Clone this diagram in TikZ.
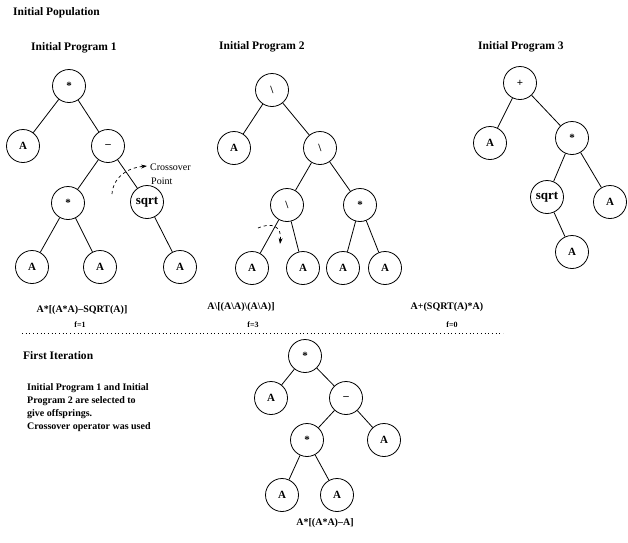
\documentclass[tikz,border=0pt]{standalone}
\usepackage{fontspec}
\setmainfont{Liberation Serif}
\usetikzlibrary{arrows.meta}
\begin{document}
\begin{tikzpicture}[x=1pt,y=-1pt,
  tn/.style={circle,draw,line width=0.8pt,minimum size=33pt,inner sep=0pt,font=\bfseries\fontsize{11}{13}\selectfont},
  bigl/.style={font=\bfseries\fontsize{13}{15}\selectfont},
  edge/.style={line width=0.8pt},
  ttl/.style={anchor=west,inner sep=0pt,font=\bfseries\fontsize{11.5}{14}\selectfont},
  frm/.style={inner sep=0pt,font=\bfseries\fontsize{10}{12}\selectfont},
  fit/.style={inner sep=0pt,font=\bfseries\fontsize{8}{10}\selectfont},
  para/.style={anchor=north west,inner sep=0pt,align=left,font=\bfseries\fontsize{10}{13}\selectfont},
  ann/.style={anchor=west,inner sep=0pt,font=\fontsize{10}{12}\selectfont},
  xarrow/.style={dashed,line width=0.7pt,-{Stealth[length=6pt,width=4pt]}}
]
\useasboundingbox (0,0) rectangle (628,542);

% titles
\node[ttl] (tpop) at (13,13) {Initial Population};
\node[ttl] (tp1) at (31,48) {Initial Program 1};
\node[ttl] (tp2) at (219,47) {Initial Program 2};
\node[ttl] (tp3) at (478,47) {Initial Program 3};

% Tree 1
\node[tn] (a1) at (69,86) {*};
\node[tn] (a2) at (23,146) {A};
\node[tn] (a3) at (108,146) {–};
\node[tn] (a4) at (68,203) {*};
\node[tn,bigl] (a5) at (147,202) {sqrt};
\node[tn] (a6) at (32,267) {A};
\node[tn] (a7) at (100,267) {A};
\node[tn] (a8) at (180,267) {A};
\draw[edge] (a1) -- (a2);
\draw[edge] (a1) -- (a3);
\draw[edge] (a3) -- (a4);
\draw[edge] (a3) -- (a5);
\draw[edge] (a4) -- (a6);
\draw[edge] (a4) -- (a7);
\draw[edge] (a5) -- (a8);

% Tree 2
\node[tn] (b1) at (272,90) {\textbackslash};
\node[tn] (b2) at (234,148) {A};
\node[tn] (b3) at (320,148) {\textbackslash};
\node[tn] (b4) at (287,205) {\textbackslash};
\node[tn] (b5) at (360,205) {*};
\node[tn] (b6) at (252,268) {A};
\node[tn] (b7) at (303,268) {A};
\node[tn] (b8) at (343,268) {A};
\node[tn] (b9) at (385,268) {A};
\draw[edge] (b1) -- (b2);
\draw[edge] (b1) -- (b3);
\draw[edge] (b3) -- (b4);
\draw[edge] (b3) -- (b5);
\draw[edge] (b4) -- (b6);
\draw[edge] (b4) -- (b7);
\draw[edge] (b5) -- (b8);
\draw[edge] (b5) -- (b9);

% Tree 3
\node[tn] (c1) at (520,83) {+};
\node[tn] (c2) at (490,143) {A};
\node[tn] (c3) at (572,138) {*};
\node[tn,bigl] (c4) at (547,197) {sqrt};
\node[tn] (c5) at (610,202) {A};
\node[tn] (c6) at (572,252) {A};
\draw[edge] (c1) -- (c2);
\draw[edge] (c1) -- (c3);
\draw[edge] (c3) -- (c4);
\draw[edge] (c3) -- (c5);
\draw[edge] (c4) -- (c6);

% crossover annotations
\coordinate (x1s) at (112,194);
\coordinate (x1e) at (147,166);
\draw[xarrow] (x1s) .. controls (113,178) and (126,168) .. (x1e);
\node[ann] (cp1) at (150,167) {Crossover};
\node[ann] (cp2) at (151,181) {Point};
\coordinate (x2s) at (258,228);
\coordinate (x2e) at (280,244);
\draw[xarrow] (x2s) .. controls (272,222) and (282,226) .. (x2e);

% formulas
\node[frm] (f1) at (82,310) {A*[(A*A)–SQRT(A)]};
\node[frm] (f2) at (241,307) {A\textbackslash[(A\textbackslash A)\textbackslash(A\textbackslash A)]};
\node[frm] (f3) at (447,307) {A+(SQRT(A)*A)};
\node[fit] (g1) at (80,325) {f=1};
\node[fit] (g2) at (253,325) {f=3};
\node[fit] (g3) at (452,325) {f=0};

% separator
\coordinate (s1) at (22,333);
\coordinate (s2) at (503,333);
\draw[line width=0.6pt,dash pattern=on 0.6pt off 3.1pt] (s1) -- (s2);

% First iteration
\node[ttl] (tfi) at (23,356) {First Iteration};
\node[para] (desc) at (27,383) {Initial Program 1 and Initial\\Program 2 are selected to\\give offsprings.\\Crossover operator was used};

% Tree 4
\node[tn] (d1) at (305,356) {*};
\node[tn] (d2) at (271,398) {A};
\node[tn] (d3) at (346,398) {–};
\node[tn] (d4) at (307,440) {*};
\node[tn] (d5) at (384,440) {A};
\node[tn] (d6) at (282,495) {A};
\node[tn] (d7) at (337,495) {A};
\draw[edge] (d1) -- (d2);
\draw[edge] (d1) -- (d3);
\draw[edge] (d3) -- (d4);
\draw[edge] (d3) -- (d5);
\draw[edge] (d4) -- (d6);
\draw[edge] (d4) -- (d7);
\node[frm] (f4) at (325,523) {A*[(A*A)–A]};
\end{tikzpicture}
\end{document}
